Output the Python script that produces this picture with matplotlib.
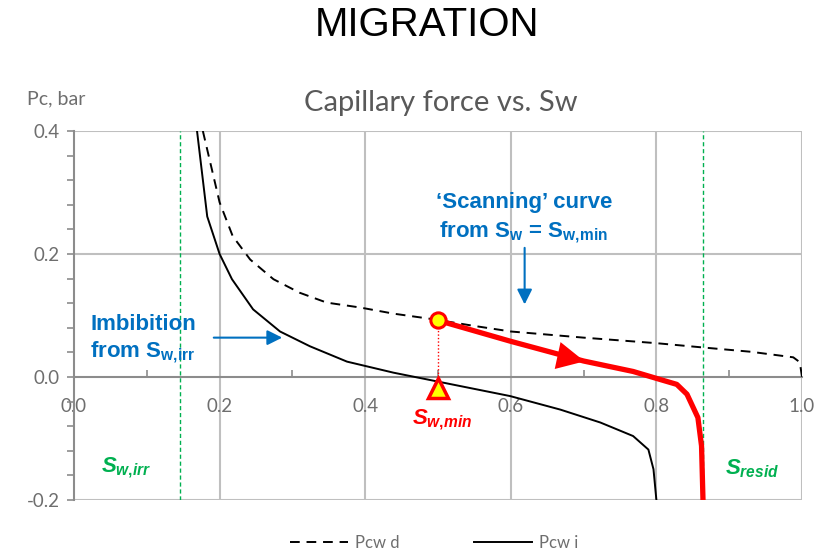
import matplotlib
matplotlib.use("Agg")
import matplotlib.pyplot as plt
import numpy as np

plt.rcParams['mathtext.fontset'] = 'custom'
plt.rcParams['mathtext.rm'] = 'Liberation Sans:bold'
plt.rcParams['mathtext.it'] = 'Liberation Sans:bold:italic'
plt.rcParams['mathtext.bf'] = 'Liberation Sans:bold'

# ---- data ----
sw_drain = [0.177, 0.20, 0.218, 0.242, 0.274, 0.31, 0.347, 0.393, 0.439, 0.493, 0.55, 0.60,
            0.70, 0.80, 0.864, 0.93, 0.988, 0.997, 1.0]
pc_drain = [0.40, 0.284, 0.229, 0.191, 0.159, 0.137, 0.121, 0.113, 0.103, 0.094, 0.083, 0.074,
            0.064, 0.055, 0.048, 0.041, 0.032, 0.024, 0.0]

sw_imb = [0.169, 0.183, 0.20, 0.217, 0.246, 0.283, 0.324, 0.375, 0.439, 0.498, 0.599, 0.668,
          0.723, 0.768, 0.789, 0.796, 0.80]
pc_imb = [0.40, 0.261, 0.20, 0.159, 0.11, 0.074, 0.05, 0.025, 0.007, -0.007, -0.031, -0.053,
          -0.074, -0.096, -0.118, -0.15, -0.20]

sw_scan = [0.50, 0.60, 0.70, 0.768, 0.805, 0.828, 0.842, 0.857, 0.862, 0.864]
pc_scan = [0.092, 0.058, 0.026, 0.009, -0.004, -0.012, -0.028, -0.066, -0.112, -0.20]

sw_min = 0.50
pc_start = 0.092
sw_irr = 0.145
s_resid = 0.864

x_ticks = [0.0, 0.2, 0.4, 0.6, 0.8, 1.0]
x_tick_labels = ["0.0", "0.2", "0.4", "0.6", "0.8", "1.0"]
y_ticks = [-0.2, 0.0, 0.2, 0.4]
y_tick_labels = ["-0.2", "0.0", "0.2", "0.4"]

BLUE = '#0070C0'
RED = '#FF0000'
GREEN = '#00B050'
GRID = '#BFBFBF'
AXC = '#8C8C8C'
TXT = '#6E6E6E'

fig = plt.figure(figsize=(8.2, 5.55), dpi=100)
ax = fig.add_axes([74/820, 1-500/555, 728/820, 369/555])
ax.set_xlim(0, 1)
ax.set_ylim(-0.2, 0.4)

# grid
for xv in x_ticks[1:]:
    ax.axvline(xv, color=GRID, lw=1.5, zorder=1)
for yv in [-0.2, 0.2, 0.4]:
    ax.axhline(yv, color=GRID, lw=1.5, zorder=1)

for s in ['top', 'right']:
    ax.spines[s].set_visible(False)
ax.spines['left'].set_color(AXC)
ax.spines['left'].set_linewidth(1.5)
ax.spines['bottom'].set_position(('data', 0))
ax.spines['bottom'].set_color(AXC)
ax.spines['bottom'].set_linewidth(1.5)

ax.set_xticks(x_ticks)
ax.set_xticklabels(x_tick_labels, fontsize=13.5, color=TXT, family='Lato')
ax.set_xticks([0.1, 0.3, 0.5, 0.7, 0.9], minor=True)
ax.tick_params(axis='x', which='major', length=0, pad=15)
ax.tick_params(axis='x', which='minor', length=5, direction='in', color=AXC, width=1.2)

ax.set_yticks(y_ticks)
ax.set_yticklabels(y_tick_labels, fontsize=13.5, color=TXT, family='Lato')
ax.set_yticks(list(np.arange(-0.2, 0.41, 0.04)), minor=True)
ax.tick_params(axis='y', which='both', length=5, direction='out', color=AXC, width=1.2, pad=5)

# green verticals
ax.axvline(sw_irr, color=GREEN, lw=1.0, ls=(0, (3, 2)), zorder=2)
ax.axvline(s_resid, color=GREEN, lw=1.0, ls=(0, (3, 2)), zorder=2)

# curves
ld, = ax.plot(sw_drain, pc_drain, color='black', lw=1.4, ls=(0, (5, 3.5)), zorder=3, label='Pcw d')
li, = ax.plot(sw_imb, pc_imb, color='black', lw=1.4, zorder=3, label='Pcw i')
ax.plot(sw_scan, pc_scan, color=RED, lw=3.8, zorder=4, solid_joinstyle='round')

ax.annotate('', xy=(0.705, 0.0245), xytext=(0.66, 0.036),
            arrowprops=dict(arrowstyle='-|>,head_length=0.9,head_width=0.45', color=RED,
                            lw=0, mutation_scale=22), zorder=5)

ax.plot([sw_min, sw_min], [pc_start, -0.012], color=RED, lw=1.0, ls=(0, (1, 1.5)), zorder=4)
ax.plot([sw_min], [pc_start], marker='o', ms=11, mfc='#FFFF00', mec=RED, mew=2.2, zorder=6,
        clip_on=False)
ax.plot([sw_min], [-0.018], marker='^', ms=14, mfc='#FFFF00', mec=RED, mew=2.5, zorder=6,
        clip_on=False)

# annotations
ax.text(0.022, 0.085, 'Imbibition', color=BLUE, fontsize=16, family='Liberation Sans',
        fontweight='bold', ha='left', va='center')
ax.text(0.022, 0.040, r'from $\mathrm{S_{w{,}irr}}$', color=BLUE, fontsize=16,
        family='Liberation Sans', fontweight='bold', ha='left', va='center')
ax.annotate('', xy=(0.286, 0.064), xytext=(0.192, 0.064),
            arrowprops=dict(arrowstyle='-|>,head_length=0.6,head_width=0.3', color=BLUE, lw=1.5,
                            mutation_scale=15, shrinkA=0, shrinkB=0))

ax.text(0.618, 0.283, '\u2018Scanning\u2019 curve', color=BLUE, fontsize=16,
        family='Liberation Sans', fontweight='bold', ha='center', va='center')
ax.text(0.618, 0.235, r'from $\mathrm{S_w}$ = $\mathrm{S_{w{,}min}}$', color=BLUE, fontsize=16,
        family='Liberation Sans', fontweight='bold', ha='center', va='center')
ax.annotate('', xy=(0.619, 0.118), xytext=(0.619, 0.21),
            arrowprops=dict(arrowstyle='-|>,head_length=0.6,head_width=0.3', color=BLUE, lw=1.5,
                            mutation_scale=15, shrinkA=0, shrinkB=0))

ax.text(0.506, -0.070, r'$\mathit{S_{w{,}min}}$', color=RED, fontsize=16, ha='center', va='center')
ax.text(0.072, -0.147, r'$\mathit{S_{w{,}irr}}$', color=GREEN, fontsize=16, ha='center', va='center')
ax.text(0.932, -0.149, r'$\mathit{S_{resid}}$', color=GREEN, fontsize=16, ha='center', va='center')

# titles
fig.text(427/820, 1-25/555, 'MIGRATION', fontsize=29, family='Liberation Sans', color='black',
         ha='center', va='center')
fig.text(441/820, 1-103/555, 'Capillary force vs. Sw', fontsize=21, family='Lato',
         color='#595959', ha='center', va='center')
fig.text(27/820, 1-99/555, 'Pc, bar', fontsize=14, family='Lato', color=TXT,
         ha='left', va='center')

leg = fig.legend(handles=[ld, li], loc='center', bbox_to_anchor=(434/820, 1-543/555), ncol=2,
                 frameon=False, handlelength=3.5, columnspacing=4.5, handletextpad=0.4,
                 prop={'family': 'Lato', 'size': 12})
for t in leg.get_texts():
    t.set_color(TXT)

fig.savefig('out.png', dpi=100)
